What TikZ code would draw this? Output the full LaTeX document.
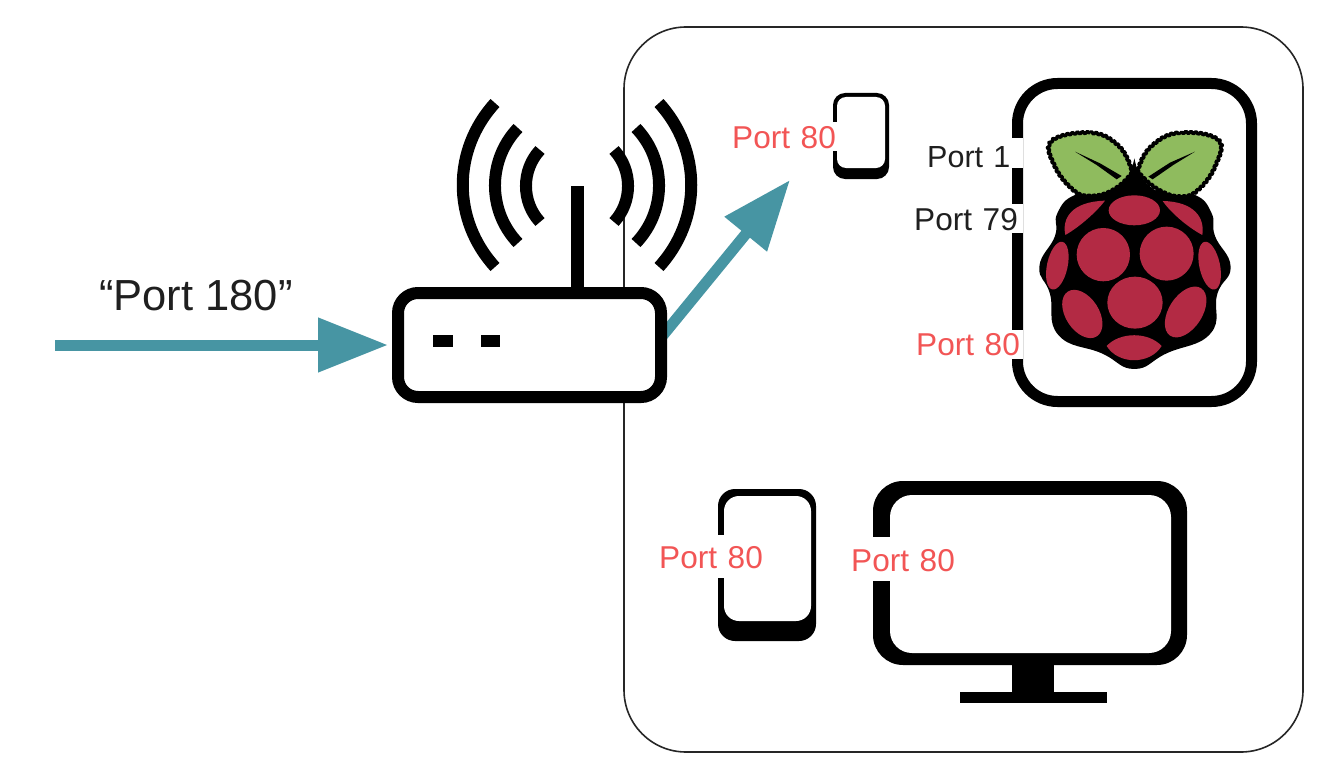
\documentclass[tikz,border=0pt]{standalone}
\usepackage{fontspec}
\setmainfont{Liberation Sans}
\usetikzlibrary{arrows.meta,decorations.pathmorphing}
\definecolor{teal}{HTML}{4795A3}
\definecolor{portred}{HTML}{F25555}
\definecolor{leafgreen}{HTML}{8FBB5E}
\definecolor{berry}{HTML}{B32A44}
\tikzset{
  icon/.style={draw=black,fill=white,outer sep=0pt,inner sep=0pt},
  solid block/.style={fill=black,draw=none,outer sep=0pt,inner sep=0pt},
  void/.style={fill=white,draw=none,outer sep=0pt,inner sep=0pt},
  portlab/.style={fill=white,inner sep=0pt,anchor=north west,align=left,font=\fontsize{31.6}{32}\selectfont},
  portred/.style={portlab,text=portred},
  portblack/.style={portlab,text=black!88},
  wave/.style={draw=black,line width=12pt,line cap=butt},
  flow/.style={draw=teal,line width=11pt,-{Triangle[length=70pt,width=52pt]}},
  drupe/.style={fill=berry,draw=none},
  leaf/.style={fill=leafgreen,draw=black,line width=3.5pt,line join=round,decorate,decoration={zigzag,segment length=5pt,amplitude=1.1pt}}
}
\begin{document}
\begin{tikzpicture}[x=1pt,y=-1pt]
\useasboundingbox (0,0) rectangle (1334,768);
\fill[white] (0,0) rectangle (1334,768);
% enclosure
\node[draw=black!85,line width=1.6pt,rounded corners=62pt,minimum width=679pt,minimum height=725pt,outer sep=0pt] (lan) at (963.5,389.5) {};
% connectors
\coordinate (wan) at (55,345);
\coordinate (routerin) at (388,345);
\coordinate (routerout) at (655,345);
\coordinate (target) at (790,180);
\draw[flow] (wan) -- (routerin);
\draw[flow] (routerout) -- (target);
% router waves
\coordinate (ant) at (577,186);
\draw[wave] (495,103) .. controls (452,150) and (452,220) .. (495,267);
\draw[wave] (518,128) .. controls (487.3,160) and (487.3,211) .. (518,243);
\draw[wave] (540,150) .. controls (521.3,170) and (521.3,202) .. (540,222);
\draw[wave] (659,103) .. controls (702,150) and (702,220) .. (659,267);
\draw[wave] (636,128) .. controls (666.7,160) and (666.7,211) .. (636,243);
\draw[wave] (614,150) .. controls (632.7,170) and (632.7,202) .. (614,222);
% router
\node[icon,line width=12pt,rounded corners=20pt,minimum width=263pt,minimum height=104pt] (router) at (529.5,345) {};
\draw[black,line width=13pt] (ant) -- (router.north -| ant);
\node[solid block,minimum width=20pt,minimum height=12pt] (led1) at (443,341) {};
\node[solid block,minimum width=19pt,minimum height=12pt] (led2) at (490.5,341) {};
% small phone
\node[solid block,rounded corners=12pt,minimum width=56pt,minimum height=86pt] (phonea) at (861,136) {};
\node[void,rounded corners=9pt,minimum width=48pt,minimum height=71pt] (phoneascreen) at (861,132.5) {};
% phone
\node[solid block,rounded corners=17pt,minimum width=98pt,minimum height=152pt] (phoneb) at (767,565) {};
\node[void,rounded corners=15pt,minimum width=87pt,minimum height=125pt] (phonebscreen) at (767.5,558.5) {};
% monitor
\node[solid block,minimum width=42pt,minimum height=40pt] (neck) at (1033,680) {};
\node[solid block,minimum width=147pt,minimum height=11pt] (base) at (1033.5,697) {};
\node[solid block,rounded corners=30pt,minimum width=314pt,minimum height=184pt] (screen) at (1030,573) {};
\node[void,rounded corners=22pt,minimum width=281pt,minimum height=158pt] (screeninner) at (1030.5,574) {};
% raspberry board
\node[icon,line width=11pt,rounded corners=40pt,minimum width=234pt,minimum height=318pt] (board) at (1134.5,242.5) {};
% raspberry logo
\begin{scope}[shift={(1000,70)},x=0.3333pt,y=-0.3333pt]
  \fill[black] plot[smooth cycle,tension=0.8] coordinates {(400,290) (440,340) (490,368) (585,375) (635,430) (645,498) (692,590) (652,672) (632,790) (500,850) (403,897) (305,850) (175,795) (150,672) (118,590) (165,498) (172,430) (225,375) (320,368) (365,340)};
  \path[leaf] plot[smooth cycle,tension=0.7] coordinates {(155,213) (270,188) (350,222) (392,290) (385,322) (330,365) (270,378) (222,362) (165,290)};
  \path[leaf] plot[smooth cycle,tension=0.7] coordinates {(655,210) (540,188) (458,225) (417,290) (425,318) (480,362) (540,380) (592,362) (645,290)};
  \fill[black] (225,245) -- (300,280) -- (365,318) -- (350,328) -- (290,285) -- cycle;
  \fill[black] (585,245) -- (510,278) -- (445,320) -- (458,328) -- (520,285) -- cycle;
  \fill[black] (403,265) -- (390,325) -- (345,368) -- (465,368) -- (418,325) -- cycle;
  \fill[drupe] (403,421) ellipse [x radius=77,y radius=45];
  \fill[drupe] (310,554) circle [radius=80];
  \fill[drupe] (500,551) circle [radius=81];
  \fill[drupe] (405,698) ellipse [x radius=83,y radius=78];
  \fill[drupe] (320,828) .. controls (360,785) and (445,785) .. (485,828) .. controls (450,885) and (355,885) .. (320,828) -- cycle;
  \fill[drupe,rotate around={-12:(172,587)}] (172,587) ellipse [x radius=31,y radius=73];
  \fill[drupe,rotate around={12:(629,587)}] (629,587) ellipse [x radius=31,y radius=73];
  \fill[drupe,rotate around={33:(247,732)}] (247,732) ellipse [x radius=50,y radius=80];
  \fill[drupe,rotate around={-33:(557,726)}] (557,726) ellipse [x radius=50,y radius=85];
  \fill[drupe] (196,495) .. controls (185,445) and (215,395) .. (315,392) .. controls (290,425) and (240,470) .. (196,495) -- cycle;
  \fill[drupe] (607,495) .. controls (615,445) and (585,395) .. (488,393) .. controls (510,425) and (560,470) .. (607,495) -- cycle;
\end{scope}
% port labels
\node[portblack,font=\fontsize{30.5}{30}\selectfont,text width=96pt,text height=29pt,text depth=1pt] (p1) at (927,138) {Port 1};
\node[portblack,text width=109pt,text height=26pt,text depth=3pt] (p79) at (914,204) {Port 79};
\node[portred,text width=107pt,text height=25pt,text depth=4pt] (p80) at (916,330) {Port 80};
\node[portred,text width=106pt,text height=26pt,text depth=3pt] (pa) at (732,122) {Port 80};
\node[portred,text width=108pt,text height=33pt,text depth=10pt] (pb) at (659,535) {Port 80};
\node[portred,text width=108pt,text height=34pt,text depth=10pt] (pc) at (851,537) {Port 80};
\node[anchor=west,inner sep=0pt,font=\fontsize{43.5}{43}\selectfont,text=black!88] (ext) at (99,296) {“Port 180”};
\end{tikzpicture}
\end{document}
